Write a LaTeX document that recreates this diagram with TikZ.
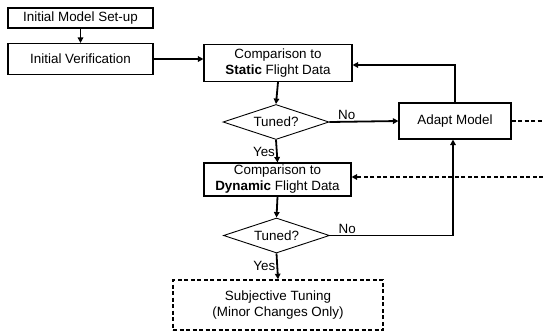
\documentclass[tikz,border=0pt]{standalone}
\usepackage{fontspec}
\setmainfont{Liberation Sans}
\usetikzlibrary{shapes.geometric,arrows.meta}
\begin{document}
\begin{tikzpicture}[x=1pt,y=-1pt,
  every node/.style={font=\fontsize{13.4}{16}\selectfont, inner sep=0pt},
  box/.style={draw, line width=1.1pt, rectangle, align=center},
  decision/.style={draw, line width=0.9pt, diamond, minimum width=106pt, minimum height=35pt, aspect=3},
  flow/.style={line width=1.8pt, -{Triangle[length=5.5pt,width=5.5pt]}},
  plainflow/.style={line width=1.8pt},
  dashflow/.style={line width=1.8pt, dash pattern=on 4pt off 2.5pt},
  lbl/.style={font=\fontsize{13.4}{16}\selectfont}]
\useasboundingbox (0,0) rectangle (543,333);

\node[box, minimum width=145pt, minimum height=20pt] (setup) at (80.5,18) {Initial Model Set-up};
\node[box, minimum width=145pt, minimum height=31pt] (verif) at (80.5,59) {Initial Verification};
\node[box, minimum width=148pt, minimum height=37pt] (static) at (278,63) {Comparison to\\\textbf{Static} Flight Data};
\node[decision] (tuned1) at (276,122) {Tuned?};
\node[box, minimum width=112pt, minimum height=36pt] (adapt) at (455,121) {Adapt Model};
\node[box, minimum width=147pt, minimum height=33pt] (dynamic) at (277.5,179.5) {Comparison to\\\textbf{Dynamic} Flight Data};
\node[decision] (tuned2) at (276.5,235.5) {Tuned?};
\node[box, dash pattern=on 4pt off 2.5pt, line width=1.6pt, minimum width=210pt, minimum height=50pt] (subj) at (278,305) {Subjective Tuning\\(Minor Changes Only)};
\coordinate (out1) at (543,121);
\coordinate (out2) at (543,177);

\draw[flow] (setup.south) -- (verif.north);
\draw[flow] (verif.east) -- (verif.east -| static.west);
\draw[flow] (static.south) -- (tuned1.north);
\draw[flow] (tuned1.east) -- node[lbl, above=1pt, pos=0.25] {No} (adapt.west);
\draw[flow] (adapt.north) |- ([yshift=-2pt]static.east);
\draw[dashflow] (adapt.east) -- (out1);
\draw[flow] (tuned1.south) -- node[lbl, left=1pt, pos=0.55] {Yes} (dynamic.north);
\draw[dashflow, -{Triangle[length=5.5pt,width=5.5pt]}] (out2) -- (out2 -| dynamic.east);
\draw[flow] (dynamic.south) -- (tuned2.north);
\draw[flow] ([xshift=-2pt]adapt.south |- tuned2.east) -- ([xshift=-2pt]adapt.south);
\draw[plainflow] (tuned2.east) -- node[lbl, above=1pt, pos=0.14] {No} ([xshift=-2pt]adapt.south |- tuned2.east);
\draw[flow] (tuned2.south) -- node[lbl, left=1pt, pos=0.5] {Yes} (subj.north);
\end{tikzpicture}
\end{document}
